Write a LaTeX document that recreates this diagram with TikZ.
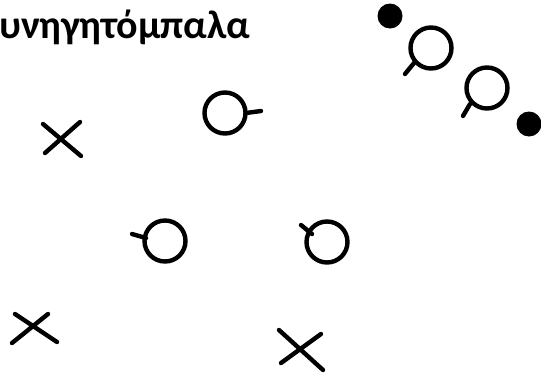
\documentclass[tikz,border=0pt]{standalone}
\usepackage{fontspec}
\setmainfont{Carlito}
\usetikzlibrary{positioning}

\tikzset{
    stroke/.style={line width=4.4pt, line cap=round},
    ball/.style={fill=black},
}

\begin{document}
\begin{tikzpicture}[x=1pt, y=1pt]
    \useasboundingbox (0,0) rectangle (541,-378);
    \clip (0,0) rectangle (541,-378);

    % title
    \node[anchor=base west, inner sep=0pt, font=\fontsize{40}{46}\selectfont\bfseries] (title) at (-1,-38) {υνηγητόμπαλα};

    % balls
    \fill[ball] (390,-16) circle (12.5);
    \fill[ball] (529,-124) circle (12.5);

    % players with a stick
    \draw[stroke] (431,-48) circle (20.5);
    \draw[stroke] (414,-63) -- (405,-74);
    \draw[stroke] (487,-88) circle (20.5);
    \draw[stroke] (470,-104) -- (463,-116);

    \draw[stroke] (225,-113) circle (20.5);
    \draw[stroke] (246,-113) -- (261,-111);

    \draw[stroke] (165,-241) circle (20.5);
    \draw[stroke] (146,-238) -- (132,-234);

    \draw[stroke] (327,-242) circle (20.5);
    \draw[stroke] (312,-234) -- (301,-225);

    % crosses
    \draw[stroke] (43,-124) -- (81,-156);
    \draw[stroke] (45,-153) -- (80,-122);
    \draw[stroke] (15,-314) -- (57,-342);
    \draw[stroke] (12,-343) -- (48,-314);
    \draw[stroke] (279,-330) -- (323,-370);
    \draw[stroke] (281,-363) -- (321,-334);
\end{tikzpicture}
\end{document}
